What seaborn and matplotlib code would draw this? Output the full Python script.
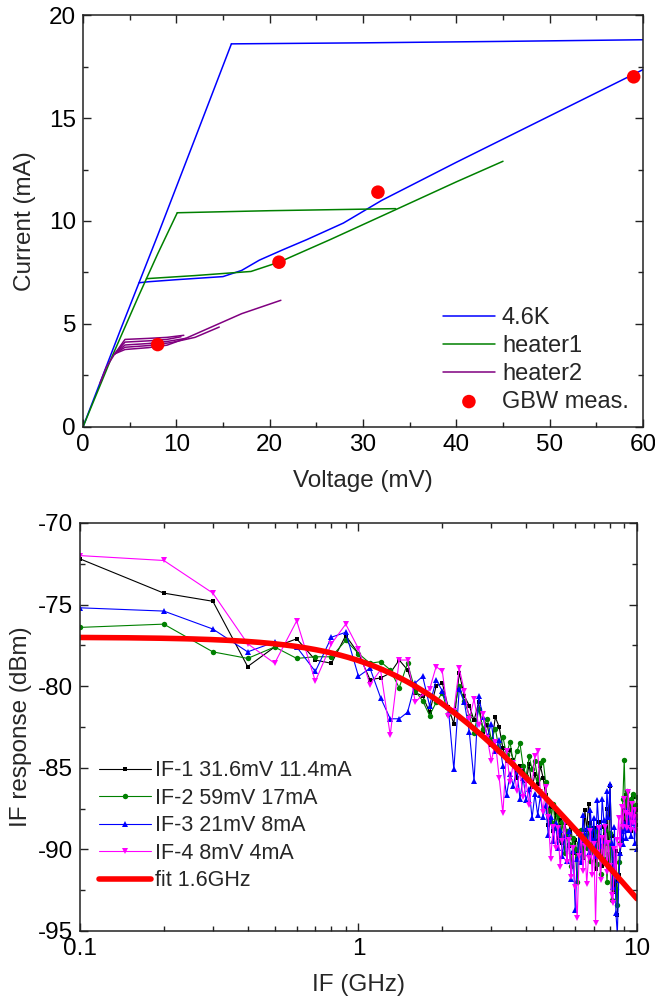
import matplotlib
matplotlib.use("Agg")
import matplotlib.pyplot as plt
import numpy as np
import seaborn as sns
from matplotlib.ticker import MultipleLocator, LogLocator, NullFormatter, FixedLocator, FixedFormatter

sns.set_theme(style="ticks")
plt.rcParams["font.family"] = ["Liberation Sans", "DejaVu Sans"]
plt.rcParams["axes.unicode_minus"] = False

BLUE = "#0000ff"
GREEN = "#008000"
PURPLE = "#800080"
MAGENTA = "#ff00ff"
RED = "#ff0000"

# ---- top panel: IV curves (mV, mA) ----
iv_46k_up_v = [0, 4, 8, 12, 15.9]
iv_46k_up_i = [0, 4.7, 9.3, 14.0, 18.6]
iv_46k_flat_v = [15.9, 30, 45, 60]
iv_46k_flat_i = [18.6, 18.65, 18.72, 18.8]
iv_46k_ret_v = [60, 50, 40, 32, 27.9, 24, 21.4, 18.9, 17, 15, 10, 7, 6.0]
iv_46k_ret_i = [17.35, 15.1, 12.85, 11.0, 9.9, 9.1, 8.6, 8.1, 7.6, 7.3, 7.15, 7.05, 7.0]

heater1_up_v = [0, 3, 6, 8, 10.1]
heater1_up_i = [0, 3.3, 6.4, 8.4, 10.4]
heater1_flat_v = [10.1, 20, 33.5]
heater1_flat_i = [10.4, 10.5, 10.6]
heater1_ret_v = [45, 40, 33.5, 26.5, 21, 18, 12, 6.8]
heater1_ret_i = [12.9, 11.9, 10.55, 9.1, 8.0, 7.55, 7.35, 7.2]

heater2_rise_v = [1.8, 2.5, 3.4]
heater2_rise_i = [2.1, 2.9, 3.55]
heater2_branches = [
    ([3.4, 4.5, 7, 9, 10.8], [3.55, 4.25, 4.3, 4.35, 4.45]),
    ([3.4, 4.5, 7, 9, 10.5], [3.55, 4.12, 4.18, 4.25, 4.38]),
    ([3.4, 4.5, 7, 9, 11], [3.55, 3.98, 4.05, 4.15, 4.3]),
    ([3.4, 4.5, 7, 9.5, 12, 14.6], [3.55, 3.87, 3.95, 4.1, 4.35, 4.85]),
    ([3.4, 4.5, 7, 9, 11, 14, 17, 21.2], [3.55, 3.76, 3.85, 3.97, 4.3, 4.9, 5.5, 6.15]),
]

gbw_v = [8, 21, 31.6, 59]
gbw_i = [4.0, 8.0, 11.4, 17.0]

# ---- bottom panel: IF response ----
if_freq = [0.1, 0.2, 0.3, 0.4, 0.5, 0.6, 0.7, 0.8, 0.9, 1.0,
           1.1, 1.2, 1.3, 1.4, 1.5, 1.6, 1.7, 1.8, 1.9, 2.0,
           2.1, 2.2, 2.3, 2.4, 2.5, 2.6, 2.7, 2.8, 2.9, 3.0,
           3.1, 3.2, 3.3, 3.4, 3.5, 3.6, 3.7, 3.8, 3.9, 4.0,
           4.1, 4.2, 4.3, 4.4, 4.5, 4.6, 4.7, 4.8, 4.9, 5.0,
           5.1, 5.2, 5.3, 5.4, 5.5, 5.6, 5.7, 5.8, 5.9, 6.0,
           6.1, 6.2, 6.3, 6.4, 6.5, 6.6, 6.7, 6.8, 6.9, 7.0,
           7.1, 7.2, 7.3, 7.4, 7.5, 7.6, 7.7, 7.8, 7.9, 8.0,
           8.1, 8.2, 8.3, 8.4, 8.5, 8.6, 8.7, 8.8, 8.9, 9.0,
           9.1, 9.2, 9.3, 9.4, 9.5, 9.6, 9.7, 9.8, 9.9, 10.0]

if1 = [-72.2, -74.3, -74.8, -78.8, -77.6, -77.1, -78.4, -78.6, -76.9, -78.0,
       -79.6, -79.5, -79.2, -78.4, -79.0, -80.4, -80.6, -81.6, -80.0, -79.8,
       -81.3, -82.3, -79.2, -80.6, -81.2, -82.1, -81.0, -82.8, -82.4, -83.6,
       -81.9, -82.5, -83.8, -84.6, -83.9, -84.5, -85.6, -84.9, -85.2, -85.8,
       -84.8, -86.2, -85.4, -86.0, -84.9, -85.6, -86.7, -88.5, -87.4, -88.9,
       -87.8, -89.3, -88.2, -89.6, -88.4, -89.0, -89.8, -88.6, -90.2, -89.4,
       -90.6, -88.9, -89.9, -90.5, -87.6, -88.8, -87.2, -88.4, -90.1, -88.7,
       -91.2, -89.5, -88.3, -90.4, -91.0, -88.6, -89.7, -87.5, -90.8, -86.1,
       -89.2, -91.4, -92.6, -90.1, -94.0, -91.6, -90.3, -89.4, -87.6, -88.3,
       -86.7, -87.9, -88.6, -87.1, -88.9, -87.4, -86.8, -88.2, -87.6, -88.5]

if2 = [-76.4, -76.2, -77.9, -78.3, -77.6, -78.3, -78.2, -78.2, -77.2, -78.0,
       -78.6, -78.5, -79.0, -80.1, -78.6, -80.3, -80.9, -81.8, -81.0, -80.4,
       -81.7, -81.5, -80.0, -80.9, -81.8, -82.9, -81.4, -82.6, -82.0, -83.3,
       -82.6, -83.9, -83.1, -84.2, -83.4, -84.8, -84.0, -83.5, -84.9, -85.5,
       -84.3, -85.1, -84.6, -85.7, -84.7, -84.5, -85.9, -87.6, -88.3, -87.2,
       -88.7, -87.9, -89.4, -88.3, -90.2, -88.9, -89.7, -91.0, -89.3, -90.0,
       -92.0, -89.6, -88.8, -90.4, -89.1, -89.9, -88.6, -90.7, -89.5, -90.2,
       -88.9, -90.9, -89.2, -91.5, -89.8, -90.6, -88.8, -92.0, -90.3, -89.0,
       -93.1, -91.2, -90.6, -92.4, -93.4, -90.8, -89.6, -88.7, -86.9, -84.5,
       -88.0, -86.4, -87.5, -88.3, -86.9, -87.8, -86.6, -88.1, -87.3, -86.8]

if3 = [-75.2, -75.4, -76.5, -77.9, -77.3, -77.6, -79.1, -77.0, -76.7, -79.4,
       -78.9, -80.7, -82.0, -82.0, -81.6, -79.8, -79.4, -81.2, -79.6, -80.3,
       -81.3, -85.1, -80.2, -81.0, -82.8, -85.8, -80.6, -81.9, -83.1, -82.3,
       -84.0, -83.3, -84.9, -86.7, -85.4, -86.1, -85.0, -86.9, -85.6, -87.0,
       -86.3, -88.1, -86.6, -87.9, -86.7, -88.0, -87.3, -89.1, -88.0, -89.5,
       -88.4, -89.9, -88.8, -90.4, -89.2, -90.7, -88.9, -91.8, -90.1, -93.7,
       -90.6, -89.0, -90.8, -87.9, -89.4, -88.7, -90.2, -87.6, -89.3, -88.1,
       -90.4, -87.0, -88.6, -89.8, -86.9, -88.2, -89.5, -86.4, -88.0, -86.0,
       -89.6, -92.3, -88.6, -93.9, -95.2, -91.9, -90.2, -88.9, -89.7, -88.4,
       -89.3, -87.6, -88.8, -87.9, -89.2, -88.4, -87.7, -89.6, -88.0, -90.0]

if4 = [-72.0, -72.3, -74.3, -77.4, -78.6, -76.0, -79.7, -77.4, -76.2, -77.7,
       -79.9, -79.0, -83.0, -78.4, -78.4, -81.0, -80.5, -80.2, -78.8, -79.1,
       -81.8, -81.5, -78.9, -80.3, -82.0, -80.8, -82.4, -81.7, -83.2, -84.6,
       -83.4, -85.6, -87.8, -84.0, -85.9, -84.7, -86.4, -85.2, -86.8, -85.9,
       -87.3, -86.1, -84.3, -84.0, -86.5, -87.7, -86.2, -88.0, -90.6, -88.6,
       -89.9, -88.7, -91.1, -89.5, -88.3, -90.8, -89.4, -91.7, -89.9, -92.3,
       -94.2, -90.4, -89.1, -91.3, -89.8, -92.1, -90.5, -88.9, -91.6, -89.7,
       -94.5, -90.2, -88.7, -91.9, -89.3, -90.8, -88.6, -91.4, -89.6, -91.0,
       -92.8, -93.3, -90.0, -91.7, -89.4, -88.1, -89.8, -87.4, -88.6, -86.9,
       -87.8, -88.7, -86.5, -87.9, -88.8, -87.2, -88.4, -87.6, -88.9, -88.0]

# single-pole roll-off fit parameters
fit_level = -77.0
fit_f3db = 1.6

if_series = [
    ("IF-1 31.6mV 11.4mA", if1, "black", "s", 3.4),
    ("IF-2 59mV 17mA", if2, GREEN, "o", 3.9),
    ("IF-3 21mV 8mA", if3, BLUE, "^", 4.2),
    ("IF-4 8mV 4mA", if4, MAGENTA, "v", 4.2),
]

FS = 17.5

fig = plt.figure(figsize=(6.55, 10.02), dpi=100)
ax1 = fig.add_axes([0.1267, 0.5739, 0.855, 0.4111])
ax2 = fig.add_axes([0.1221, 0.0709, 0.8504, 0.4072])


def style(ax):
    for s in ax.spines.values():
        s.set_linewidth(1.1)
        s.set_color("#222222")
    ax.tick_params(which="both", direction="in", top=True, right=True,
                   labelsize=FS, width=1.0, colors="#222222", labelcolor="black")
    ax.tick_params(which="major", length=6, pad=5)
    ax.tick_params(which="minor", length=3.5)
    ax.grid(False)


# top panel
lw = 1.1
sns.lineplot(x=iv_46k_up_v, y=iv_46k_up_i, sort=False, estimator=None, color=BLUE, lw=lw, ax=ax1, label="4.6K")
sns.lineplot(x=iv_46k_flat_v, y=iv_46k_flat_i, sort=False, estimator=None, color=BLUE, lw=lw, ax=ax1)
sns.lineplot(x=iv_46k_ret_v, y=iv_46k_ret_i, sort=False, estimator=None, color=BLUE, lw=lw, ax=ax1)
sns.lineplot(x=heater1_up_v, y=heater1_up_i, sort=False, estimator=None, color=GREEN, lw=lw, ax=ax1, label="heater1")
sns.lineplot(x=heater1_flat_v, y=heater1_flat_i, sort=False, estimator=None, color=GREEN, lw=lw, ax=ax1)
sns.lineplot(x=heater1_ret_v, y=heater1_ret_i, sort=False, estimator=None, color=GREEN, lw=lw, ax=ax1)
sns.lineplot(x=heater2_rise_v, y=heater2_rise_i, sort=False, estimator=None, color=PURPLE, lw=lw, ax=ax1, label="heater2")
for bv, bi in heater2_branches:
    sns.lineplot(x=bv, y=bi, sort=False, estimator=None, color=PURPLE, lw=lw, ax=ax1)
sns.scatterplot(x=gbw_v, y=gbw_i, color=RED, s=95, edgecolor="none", ax=ax1, label="GBW meas.", zorder=5)

ax1.set_xlim(0, 60)
ax1.set_ylim(0, 20)
ax1.xaxis.set_major_locator(MultipleLocator(10))
ax1.xaxis.set_minor_locator(MultipleLocator(5))
ax1.yaxis.set_major_locator(MultipleLocator(5))
ax1.yaxis.set_minor_locator(MultipleLocator(2.5))
ax1.set_xlabel("Voltage (mV)", fontsize=FS, labelpad=10)
ax1.set_ylabel("Current (mA)", fontsize=FS, labelpad=9)
style(ax1)
ax1.legend(loc="lower right", frameon=False, fontsize=FS - 0.5, handlelength=2.2,
           handletextpad=0.3, labelspacing=0.25, borderaxespad=0.2)

# bottom panel
for lab, vals, col, mk, ms in if_series:
    sns.lineplot(x=if_freq, y=vals, sort=False, estimator=None, color=col, lw=0.8,
                 marker=mk, markersize=ms, markeredgewidth=0, ax=ax2, label=lab)

fit_f = np.logspace(-1, 1, 200)
fit_db = fit_level - 10 * np.log10(1 + (fit_f / fit_f3db) ** 2)
sns.lineplot(x=fit_f, y=fit_db, sort=False, estimator=None, color=RED, lw=4, ax=ax2, label="fit 1.6GHz")

ax2.set_xscale("log")
ax2.set_xlim(0.1, 10)
ax2.set_ylim(-95, -70)
ax2.xaxis.set_major_locator(FixedLocator([0.1, 1, 10]))
ax2.xaxis.set_major_formatter(FixedFormatter(["0.1", "1", "10"]))
ax2.xaxis.set_minor_locator(LogLocator(base=10, subs=np.arange(2, 10)))
ax2.xaxis.set_minor_formatter(NullFormatter())
ax2.yaxis.set_major_locator(MultipleLocator(5))
ax2.yaxis.set_minor_locator(MultipleLocator(2.5))
ax2.set_xlabel("IF (GHz)", fontsize=FS, labelpad=10)
ax2.set_ylabel("IF response (dBm)", fontsize=FS, labelpad=4)
style(ax2)
ax2.legend(loc="lower left", bbox_to_anchor=(0, 0.05), frameon=False, fontsize=FS - 2,
           handlelength=2.4, handletextpad=0.2, labelspacing=0.3)

fig.savefig("out.png", dpi=100)
